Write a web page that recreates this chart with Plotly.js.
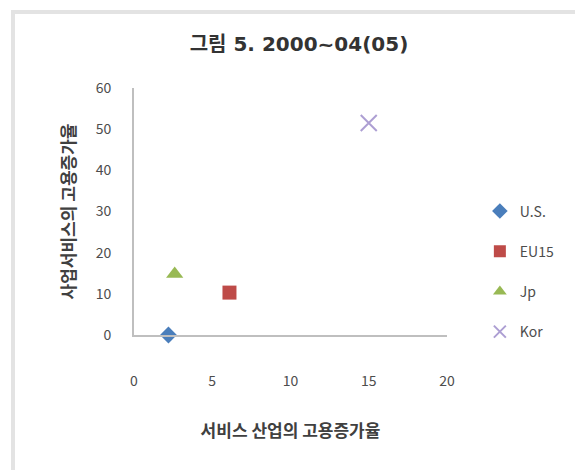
<!DOCTYPE html>
<html><head><meta charset="utf-8">
<script src="https://cdn.plot.ly/plotly-3.0.1.min.js"></script>
<style>
html,body{margin:0;padding:0;background:#fff;overflow:hidden;}
#frame{position:absolute;left:11px;top:10px;width:600px;height:500px;border-left:4px solid #e3e3e3;border-top:4px solid #e3e3e3;pointer-events:none;z-index:10;}
#chart{width:575px;height:470px;}
</style></head>
<body>
<div id="frame"></div>
<div id="chart"></div>
<script>
const seriesNames = ["U.S.", "EU15", "Jp", "Kor"];
const xValues = [2.2, 6.1, 2.6, 15.0];
const yValues = [0.0, 10.3, 14.8, 51.5];
const titleText = "그림 5. 2000~04(05)";
const xTitle = "서비스 산업의 고용증가율";
const yTitle = "사업서비스의 고용증가율";

const symbols = ["diamond", "square", "triangle-up", "x-thin-open"];
const colors = ["#4a7ebb", "#be4b48", "#98b954", "#ad9fd3"];
const sizes = [13, 14, 15, 16];

const font = "'Noto Sans CJK KR', 'Noto Sans', sans-serif";
const traces = seriesNames.map((n, i) => ({
  type: "scatter", mode: "markers", name: n,
  x: [xValues[i]], y: [yValues[i]],
  legendgroup: "g" + i,
  cliponaxis: false,
  marker: {symbol: symbols[i], color: colors[i], size: sizes[i],
    line: {color: colors[i], width: i === 3 ? 2 : 0}}
}));

const layout = {
  width: 575, height: 470,
  margin: {l: 134, r: 128, t: 88, b: 135},
  paper_bgcolor: "#fff", plot_bgcolor: "#fff",
  font: {family: font, color: "#595959", size: 13},
  title: {text: "<b>" + titleText + "</b>", x: 0.52, xanchor: "center", y: 0.906, yanchor: "middle",
    font: {family: "'DejaVu Sans', 'Noto Sans CJK KR', sans-serif", size: 20, color: "#333"}},
  xaxis: {range: [0, 20], dtick: 5, tick0: 0, showgrid: false, zeroline: false,
    showline: true, linecolor: "#bfbfbf", linewidth: 2, ticks: "", ticklabelstandoff: 32,
    tickfont: {size: 14, color: "#4d4d4d"},
    title: {text: "<b>" + xTitle + "</b>", standoff: 36, font: {size: 17, color: "#404040"}}},
  yaxis: {range: [0, 60], dtick: 10, tick0: 0, showgrid: false, zeroline: false,
    showline: true, linecolor: "#bfbfbf", linewidth: 2, ticks: "", ticklabelstandoff: 18,
    tickfont: {size: 14, color: "#4d4d4d"},
    title: {text: "<b>" + yTitle + "</b>", standoff: 16, font: {size: 17, color: "#404040"}}},
  showlegend: true,
  legend: {x: 1.105, xanchor: "left", y: 0.565, yanchor: "top", tracegroupgap: 19,
    font: {size: 14, color: "#4d4d4d"}, itemwidth: 30, itemsizing: "constant", bgcolor: "rgba(0,0,0,0)"}
};
Plotly.newPlot("chart", traces, layout, {displayModeBar: false, staticPlot: true});
</script>
</body></html>
